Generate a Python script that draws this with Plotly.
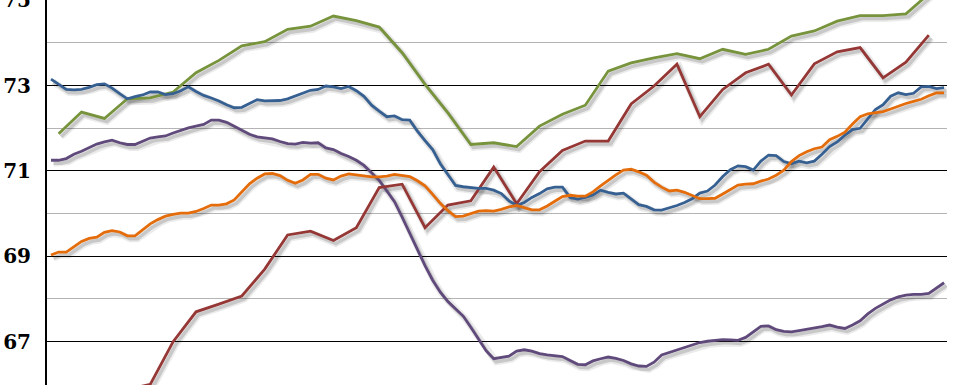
import plotly.graph_objects as go

# Monthly series (index = month number)
months = list(range(118))
blue = [73.15,73.02,72.91,72.90,72.91,72.96,73.02,73.04,72.94,72.81,
        72.69,72.74,72.78,72.85,72.85,72.79,72.81,72.88,72.97,72.86,
        72.77,72.71,72.64,72.55,72.48,72.49,72.58,72.67,72.64,72.64,
        72.65,72.69,72.76,72.83,72.89,72.91,72.99,72.97,72.93,72.98,
        72.88,72.75,72.54,72.40,72.27,72.29,72.20,72.19,71.93,71.71,
        71.50,71.17,70.90,70.66,70.63,70.61,70.59,70.59,70.55,70.47,
        70.30,70.19,70.26,70.38,70.47,70.58,70.62,70.62,70.38,70.34,
        70.38,70.44,70.55,70.50,70.46,70.48,70.35,70.21,70.17,70.09,
        70.08,70.13,70.19,70.26,70.35,70.48,70.53,70.67,70.87,71.03,
        71.12,71.10,71.02,71.23,71.37,71.36,71.22,71.17,71.23,71.19,
        71.23,71.39,71.57,71.68,71.84,71.97,72.00,72.22,72.44,72.55,
        72.75,72.83,72.79,72.82,72.97,72.98,72.93,72.95]
orange = [69.03,69.10,69.10,69.23,69.35,69.42,69.45,69.56,69.60,69.57,
          69.48,69.48,69.61,69.76,69.86,69.94,69.98,70.01,70.01,70.05,
          70.12,70.20,70.20,70.23,70.32,70.52,70.70,70.83,70.93,70.94,
          70.89,70.78,70.71,70.79,70.92,70.92,70.83,70.79,70.88,70.93,
          70.91,70.88,70.86,70.86,70.88,70.92,70.90,70.87,70.77,70.65,
          70.45,70.24,70.07,69.93,69.94,70.00,70.06,70.07,70.06,70.10,
          70.16,70.19,70.14,70.09,70.09,70.18,70.29,70.40,70.43,70.41,
          70.41,70.51,70.65,70.79,70.91,71.02,71.04,70.98,70.90,70.74,
          70.62,70.53,70.55,70.50,70.43,70.35,70.35,70.36,70.46,70.56,
          70.67,70.69,70.70,70.76,70.81,70.90,71.02,71.22,71.36,71.45,
          71.52,71.56,71.73,71.81,71.91,72.10,72.27,72.34,72.36,72.39,
          72.45,72.52,72.58,72.63,72.68,72.76,72.83,72.83]
purple = [71.25,71.25,71.29,71.39,71.46,71.54,71.63,71.68,71.72,71.66,
          71.62,71.62,71.69,71.77,71.80,71.82,71.89,71.95,72.01,72.05,
          72.09,72.19,72.19,72.14,72.04,71.95,71.86,71.80,71.77,71.75,
          71.69,71.64,71.63,71.67,71.65,71.66,71.54,71.50,71.41,71.34,
          71.25,71.13,70.96,70.78,70.53,70.28,69.92,69.54,69.13,68.78,
          68.44,68.16,67.94,67.78,67.60,67.34,67.06,66.79,66.60,66.63,
          66.66,66.78,66.81,66.78,66.72,66.69,66.67,66.65,66.56,66.47,
          66.46,66.55,66.60,66.64,66.61,66.56,66.48,66.43,66.42,66.52,
          66.69,66.75,66.81,66.86,66.92,66.98,67.01,67.03,67.05,67.04,
          67.03,67.10,67.24,67.36,67.37,67.28,67.24,67.23,67.26,67.29,
          67.31,67.35,67.39,67.34,67.31,67.39,67.49,67.65,67.78,67.88,
          67.98,68.05,68.09,68.11,68.11,68.13,68.26,68.38]

# Quarterly series
green_months = list(range(1, 116, 3))
green = [71.87,72.38,72.23,72.69,72.71,72.85,73.30,73.59,73.93,74.03,
         74.32,74.39,74.63,74.52,74.37,73.77,73.03,72.36,71.62,71.66,
         71.57,72.05,72.33,72.54,73.34,73.53,73.65,73.75,73.63,73.85,
         73.73,73.85,74.16,74.28,74.51,74.64,74.64,74.68,75.15]
red_months = list(range(10, 116, 3))
red = [65.88,66.00,67.00,67.70,67.88,68.07,68.70,69.50,69.59,69.37,
       69.67,70.61,70.69,69.67,70.20,70.30,71.09,70.23,70.98,71.48,
       71.70,71.70,72.57,72.99,73.50,72.27,72.91,73.30,73.50,72.78,
       73.51,73.79,73.89,73.18,73.55,74.18]

y_ticks = [67, 69, 71, 73, 75]
y_minor = [66, 68, 70, 72, 74]

series = [
    (green_months, green, "#77933C"),
    (months, purple, "#604A7B"),
    (red_months, red, "#953735"),
    (months, blue, "#376092"),
    (months, orange, "#E46C0A"),
]

X_RANGE = [-0.524, 117.38]
Y_RANGE = [65.985, 75.005]
dx = 2.5 / 7.633   # shadow offset right (px -> data)
dy = 3.0 / 42.7    # shadow offset down

fig = go.Figure()

# invisible trace so the base axes (grid, labels) are drawn
fig.add_trace(go.Scatter(x=[X_RANGE[0]], y=[Y_RANGE[0]], mode="markers",
                         marker=dict(opacity=0), hoverinfo="skip", showlegend=False))

# shadows
for xs, ys, col in series:
    fig.add_trace(go.Scatter(x=xs, y=ys, mode="lines", xaxis="x2", yaxis="y2",
                             line=dict(color="rgba(0,0,0,0.08)", width=7),
                             hoverinfo="skip", showlegend=False))
    fig.add_trace(go.Scatter(x=xs, y=ys, mode="lines", xaxis="x2", yaxis="y2",
                             line=dict(color="rgba(0,0,0,0.15)", width=3.5),
                             hoverinfo="skip", showlegend=False))
# lines
for xs, ys, col in series:
    fig.add_trace(go.Scatter(x=xs, y=ys, mode="lines", xaxis="x3", yaxis="y3",
                             line=dict(color=col, width=2.8),
                             showlegend=False))

fig.update_layout(
    width=967, height=385,
    margin=dict(l=47, r=20, t=0, b=0, autoexpand=False),
    paper_bgcolor="white", plot_bgcolor="white",
    showlegend=False,
    xaxis=dict(range=X_RANGE, showgrid=False, zeroline=False, showline=False,
               showticklabels=False, ticks=""),
    yaxis=dict(range=Y_RANGE, tickvals=y_ticks, ticktext=[str(v) for v in y_ticks],
               showgrid=True, gridcolor="#000000", gridwidth=1.2,
               zeroline=False, showline=True, linecolor="#000000", linewidth=2,
               ticks="", ticklabelstandoff=10, ticklabeloverflow="allow",
               tickfont=dict(family="DejaVu Serif", size=20, color="#000000", weight="bold"),
               minor=dict(tickvals=y_minor, showgrid=True, gridcolor="#b4b4b4",
                          gridwidth=1.4, ticks="")),
    xaxis2=dict(range=[X_RANGE[0] - dx, X_RANGE[1] - dx], overlaying="x",
                showgrid=False, zeroline=False, showline=False, showticklabels=False),
    yaxis2=dict(range=[Y_RANGE[0] + dy, Y_RANGE[1] + dy], overlaying="y",
                showgrid=False, zeroline=False, showline=False, showticklabels=False),
    xaxis3=dict(range=X_RANGE, overlaying="x",
                showgrid=False, zeroline=False, showline=False, showticklabels=False),
    yaxis3=dict(range=Y_RANGE, overlaying="y",
                showgrid=False, zeroline=False, showline=False, showticklabels=False),
)

fig.write_html("out.html", config={"displayModeBar": False},
               post_script="document.body.style.margin='0px';document.body.style.overflow='hidden';")
